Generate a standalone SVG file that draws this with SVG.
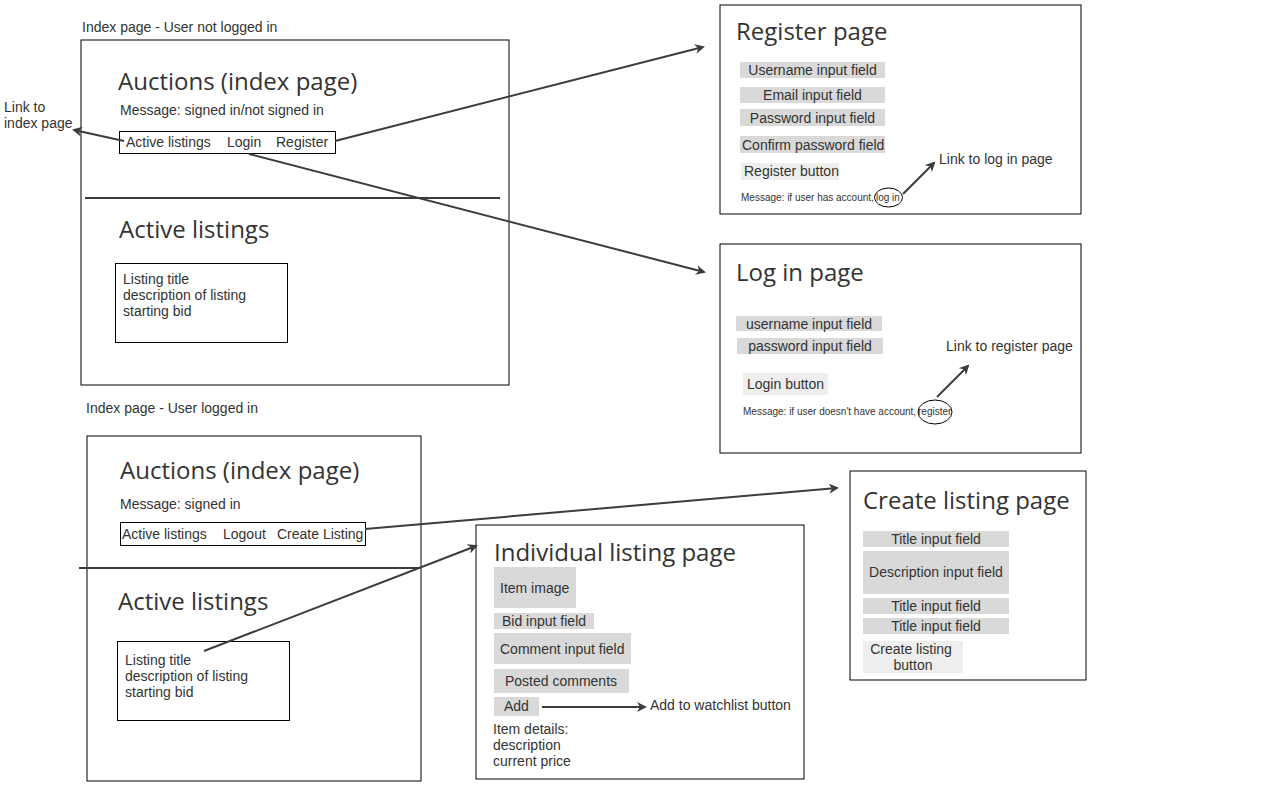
<svg xmlns="http://www.w3.org/2000/svg" width="1280" height="800" viewBox="0 0 1280 800">
<defs>
<style>
.bg{fill:#ffffff}
.page{fill:#ffffff;stroke:#000000;stroke-width:1}
.nav{fill:#ffffff;stroke:#000000;stroke-width:1}
.field{fill:#d9d9d9}
.btn{fill:#eeeeee}
.t{font-family:"Liberation Sans",Arial,sans-serif;font-size:14px;fill:#333333}
.s{font-family:"Liberation Sans",Arial,sans-serif;font-size:10px;fill:#333333}
.h{font-family:"Open Sans","Noto Sans",sans-serif;font-size:24px;fill:#333333}
.c{text-anchor:middle}
.edge{fill:none;stroke:#3c3c3c;stroke-width:2}
.sep{stroke:#3c3c3c;stroke-width:2}
.oval{fill:none;stroke:#000000;stroke-width:1}
</style>
<marker id="arr" viewBox="0 0 10 10" refX="8" refY="5" markerWidth="5" markerHeight="5" orient="auto" markerUnits="strokeWidth">
<path d="M0,0 L10,5 L0,10 L3,5 z" fill="#3c3c3c"/>
</marker>
</defs>
<rect class="bg" x="0" y="0" width="1280" height="800"/>

<g id="index-logged-out">
<text class="t" x="82" y="32">Index page - User not logged in</text>
<rect class="page" x="81" y="40" width="428" height="345"/>
<text class="h" x="118" y="90">Auctions (index page)</text>
<text class="t" x="120" y="115">Message: signed in/not signed in</text>
<rect class="nav" x="119.5" y="131.5" width="216" height="22"/>
<text class="t" x="126" y="147">Active listings</text>
<text class="t" x="227" y="147">Login</text>
<text class="t" x="276" y="147">Register</text>
<line class="sep" x1="85" y1="198" x2="500" y2="198"/>
<text class="h" x="119" y="238">Active listings</text>
<rect class="page" x="115.5" y="263.5" width="172" height="79"/>
<text class="t" x="123" y="284">Listing title</text>
<text class="t" x="123" y="300">description of listing</text>
<text class="t" x="123" y="316">starting bid</text>
</g>

<g id="link-index-label">
<text class="t" x="4" y="112">Link to</text>
<text class="t" x="4" y="128">index page</text>
</g>

<g id="register-page">
<rect class="page" x="720" y="5" width="361" height="209"/>
<text class="h" x="736" y="40">Register page</text>
<rect class="field" x="740" y="62" width="145" height="16"/>
<text class="t c" x="812.5" y="75">Username input field</text>
<rect class="field" x="740" y="87" width="145" height="16"/>
<text class="t c" x="812.5" y="100">Email input field</text>
<rect class="field" x="740" y="109" width="145" height="17"/>
<text class="t c" x="812.5" y="123">Password input field</text>
<rect class="field" x="740" y="136" width="145" height="17"/>
<text class="t" x="742" y="150">Confirm password field</text>
<rect class="btn" x="741" y="163" width="98" height="17"/>
<text class="t" x="744" y="176">Register button</text>
<text class="s" x="741" y="201">Message: if user has account,</text>
<text class="s" x="876" y="201">log in</text>
<ellipse class="oval" cx="888.5" cy="197.5" rx="14" ry="9.5"/>
<text class="t" x="939" y="164">Link to log in page</text>
</g>

<g id="login-page">
<rect class="page" x="720" y="244" width="361" height="209"/>
<text class="h" x="736" y="281">Log in page</text>
<rect class="field" x="736" y="316" width="146" height="15"/>
<text class="t c" x="809" y="329">username input field</text>
<rect class="field" x="737" y="338" width="146" height="16"/>
<text class="t c" x="810" y="351">password input field</text>
<rect class="btn" x="743" y="373" width="85" height="22"/>
<text class="t" x="747" y="389">Login button</text>
<text class="s" x="743" y="415">Message: if user doesn't have account,</text>
<text class="s" x="918" y="415">register</text>
<ellipse class="oval" cx="935" cy="412" rx="17" ry="12"/>
<text class="t" x="946" y="351">Link to register page</text>
</g>

<g id="index-logged-in">
<text class="t" x="86" y="413">Index page - User logged in</text>
<rect class="page" x="87" y="436" width="334" height="345"/>
<text class="h" x="120" y="479">Auctions (index page)</text>
<text class="t" x="120" y="509">Message: signed in</text>
<rect class="nav" x="120.5" y="522.5" width="245" height="23"/>
<text class="t" x="122" y="539">Active listings</text>
<text class="t" x="223" y="539">Logout</text>
<text class="t" x="277" y="539">Create Listing</text>
<line class="sep" x1="79" y1="568" x2="420" y2="568"/>
<text class="h" x="118" y="610">Active listings</text>
<rect class="page" x="117.5" y="641.5" width="172" height="79"/>
<text class="t" x="125" y="665">Listing title</text>
<text class="t" x="125" y="681">description of listing</text>
<text class="t" x="125" y="697">starting bid</text>
</g>

<g id="individual-listing-page">
<rect class="page" x="476" y="525" width="328" height="254"/>
<text class="h" x="494" y="561">Individual listing page</text>
<rect class="field" x="494" y="567" width="82" height="41"/>
<text class="t" x="500" y="593">Item image</text>
<rect class="field" x="494" y="613" width="100" height="16"/>
<text class="t" x="502" y="626">Bid input field</text>
<rect class="field" x="494" y="633" width="137" height="31"/>
<text class="t" x="500" y="654">Comment input field</text>
<rect class="field" x="494" y="669" width="135" height="24"/>
<text class="t" x="505" y="686">Posted comments</text>
<rect class="field" x="494" y="697" width="45" height="19"/>
<text class="t" x="504" y="711">Add</text>
<text class="t" x="650" y="710">Add to watchlist button</text>
<text class="t" x="493" y="734">Item details:</text>
<text class="t" x="493" y="750">description</text>
<text class="t" x="493" y="766">current price</text>
</g>

<g id="create-listing-page">
<rect class="page" x="850" y="471" width="236" height="209"/>
<text class="h" x="863" y="509">Create listing page</text>
<rect class="field" x="863" y="531" width="146" height="16"/>
<text class="t c" x="936" y="544">Title input field</text>
<rect class="field" x="863" y="551" width="146" height="43"/>
<text class="t c" x="936" y="577">Description input field</text>
<rect class="field" x="863" y="598" width="146" height="16"/>
<text class="t c" x="936" y="611">Title input field</text>
<rect class="field" x="863" y="618" width="146" height="16"/>
<text class="t c" x="936" y="631">Title input field</text>
<rect class="btn" x="863" y="641" width="100" height="32"/>
<text class="t c" x="911" y="654">Create listing</text>
<text class="t c" x="913" y="670">button</text>
</g>

<g id="connectors">
<line class="edge" x1="124" y1="141" x2="74" y2="130" marker-end="url(#arr)"/>
<line class="edge" x1="335" y1="141" x2="703" y2="47" marker-end="url(#arr)"/>
<line class="edge" x1="249" y1="154" x2="704" y2="272" marker-end="url(#arr)"/>
<line class="edge" x1="903" y1="194" x2="934" y2="163" marker-end="url(#arr)"/>
<line class="edge" x1="937" y1="397" x2="968" y2="366" marker-end="url(#arr)"/>
<line class="edge" x1="365" y1="529" x2="837" y2="488" marker-end="url(#arr)"/>
<line class="edge" x1="204" y1="651" x2="476" y2="546" marker-end="url(#arr)"/>
<line class="edge" x1="542" y1="707" x2="645" y2="707" marker-end="url(#arr)"/>
</g>
</svg>
